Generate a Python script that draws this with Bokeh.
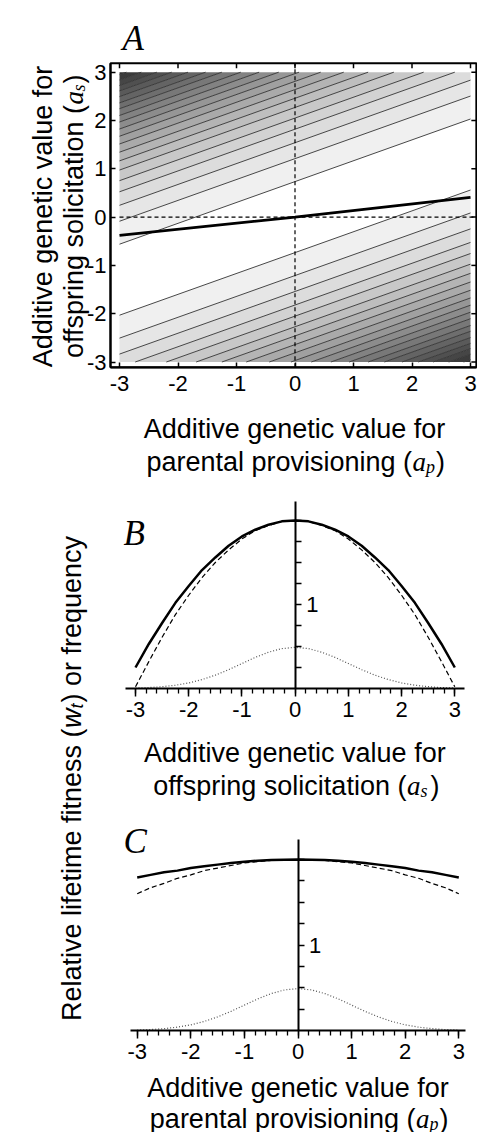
import numpy as np
from bokeh.plotting import figure
from bokeh.models import Label, FixedTicker, Range1d, LinearAxis
from bokeh.embed import file_html
from bokeh.resources import INLINE

# ---------------- data ----------------
a_ticks = [-3, -2, -1, 0, 1, 2, 3]
a_tick_labels = ["-3", "-2", "-1", "0", "1", "2", "3"]
# panel A: contour lines are parallel lines  a_s = slope * a_p +/- offset
contour_slope = 0.432
contour_offsets = [0.735, 1.21, 1.54, 1.82, 2.05, 2.27, 2.46, 2.64, 2.81, 2.97,
                   3.12, 3.265, 3.40, 3.54, 3.66, 3.79, 3.91, 4.02, 4.135, 4.245]
band_gray = [240, 230, 220, 210, 200, 190, 180, 170, 160, 150,
             140, 130, 120, 110, 100, 90, 80, 70, 60, 50]
optimum_x = [-3.0, 0.0, 3.0]
optimum_y = [-0.38, 0.0, 0.41]

# panels B and C
curve_x = [-3.0, -2.75, -2.5, -2.25, -2.0, -1.75, -1.5, -1.25, -1.0, -0.75, -0.5, -0.25, 0.0,
           0.25, 0.5, 0.75, 1.0, 1.25, 1.5, 1.75, 2.0, 2.25, 2.5, 2.75, 3.0]
b_solid = [0.25, 0.53, 0.78, 1.02, 1.22, 1.41, 1.56, 1.70, 1.81, 1.89, 1.95, 1.99, 2.00,
           1.99, 1.95, 1.89, 1.81, 1.70, 1.56, 1.41, 1.22, 1.02, 0.78, 0.53, 0.25]
b_dashed = [0.02, 0.32, 0.61, 0.88, 1.11, 1.32, 1.50, 1.65, 1.78, 1.88, 1.94, 1.99, 2.00,
            1.99, 1.94, 1.88, 1.78, 1.65, 1.50, 1.32, 1.11, 0.88, 0.61, 0.32, 0.02]
freq = [0.005, 0.011, 0.022, 0.039, 0.066, 0.106, 0.159, 0.224, 0.297, 0.370, 0.432, 0.475, 0.49,
        0.475, 0.432, 0.370, 0.297, 0.224, 0.159, 0.106, 0.066, 0.039, 0.022, 0.011, 0.005]
c_solid = [1.79, 1.82, 1.85, 1.87, 1.90, 1.92, 1.94, 1.96, 1.975, 1.986, 1.994, 1.998, 2.00,
           1.998, 1.994, 1.986, 1.975, 1.96, 1.94, 1.92, 1.90, 1.87, 1.85, 1.82, 1.79]
c_dashed = [1.60, 1.67, 1.72, 1.78, 1.82, 1.87, 1.90, 1.93, 1.96, 1.975, 1.99, 1.997, 2.00,
            1.997, 1.99, 1.975, 1.96, 1.93, 1.90, 1.87, 1.82, 1.78, 1.72, 1.67, 1.60]
fit_major = [1.0]
fit_minor = [0.25, 0.5, 0.75, 1.25, 1.5, 1.75, 2.0]
fit_axis_top = 2.23

# ---------------- styling / layout constants ----------------
SANS = "Liberation Sans"
SERIF = "Liberation Serif"
FS = "27px"
SUBFS = "18px"
TICKFS = "22px"
LIM = 3.0
R = np.pi / 2
W, H = 477, 1132
PX0, PX1, PY0, PY1 = 0, W, 0, H      # canvas extent in page pixels


def xrange_from(d0, p0, d1, p1):
    s = (p1 - p0) / (d1 - d0)
    return Range1d(d0 + (PX0 - p0) / s, d0 + (PX1 - p0) / s)


def yrange_from(d0, p0, d1, p1):
    s = (p0 - p1) / (d1 - d0)
    return Range1d(d0 - (PY1 - p0) / s, d0 + (p0 - PY0) / s)


p = figure(width=W, height=H, x_range=Range1d(PX0, PX1), y_range=Range1d(PY1, PY0),
           min_border_left=0, min_border_right=0, min_border_top=0, min_border_bottom=0,
           x_axis_location=None, y_axis_location=None,
           toolbar_location=None, output_backend="svg")
p.grid.grid_line_color = None
p.outline_line_color = None

p.extra_x_ranges = {"ax": xrange_from(-3, 119, 3, 470),
                    "bx": xrange_from(-3, 135, 3, 454.3),
                    "cx": xrange_from(-3, 136.7, 3, 458.3)}
p.extra_y_ranges = {"ay": yrange_from(-3, 361.5, 3, 71.7),
                    "by": yrange_from(0, 688, 2, 520),
                    "cy": yrange_from(0, 1030, 2, 859)}

A = dict(x_range_name="ax", y_range_name="ay")
B = dict(x_range_name="bx", y_range_name="by")
C = dict(x_range_name="cx", y_range_name="cy")


def lab(text, x, y, font=SANS, size=FS, style="normal", align="left",
        baseline="alphabetic", angle=0.0):
    p.add_layout(Label(text=text, x=x, y=y, text_font=font, text_font_size=size,
                       text_font_style=style, text_align=align, text_baseline=baseline,
                       angle=angle, text_color="black"))


def mixed_h(first, sub, xp, y):
    lab(first, xp, y, align="right")
    lab("a", xp + 0.5, y, font=SERIF, style="italic")
    lab(sub, xp + 14, y + 5, font=SERIF, style="italic", size=SUBFS)
    lab(")", xp + 24, y)


def style_axis(ax):
    ax.major_label_overrides = {t: s for t, s in zip(a_ticks, a_tick_labels)}
    ax.major_label_text_font = SANS
    ax.major_label_text_font_size = TICKFS
    ax.major_label_text_color = "black"
    ax.major_tick_line_width = 1.5
    ax.axis_line_width = 2


def clip_poly(pts, lim):
    def clip(pts, inside, yc):
        out = []
        for i in range(len(pts)):
            cur, prev = pts[i], pts[i - 1]
            def inter(a, b):
                t = (yc - a[1]) / (b[1] - a[1])
                return (a[0] + t * (b[0] - a[0]), yc)
            if inside(cur):
                if not inside(prev):
                    out.append(inter(prev, cur))
                out.append(cur)
            elif inside(prev):
                out.append(inter(prev, cur))
        return out
    pts = clip(pts, lambda q: q[1] <= lim, lim)
    if pts:
        pts = clip(pts, lambda q: q[1] >= -lim, -lim)
    return pts


# ================= Panel A =================
A_BOX = (-3.154, 3.10, -3.108, 3.186)   # frame: left, right, bottom, top
m = contour_slope
xs, ys, cols = [], [], []
for k in range(len(contour_offsets)):
    dlo = contour_offsets[k]
    dhi = contour_offsets[k + 1] if k + 1 < len(contour_offsets) else 10.0
    g = band_gray[k]
    for s in (1, -1):
        poly = [(-LIM, -LIM * m + s * dlo), (LIM, LIM * m + s * dlo),
                (LIM, LIM * m + s * dhi), (-LIM, -LIM * m + s * dhi)]
        poly = clip_poly(poly, LIM)
        if len(poly) >= 3:
            xs.append([q[0] for q in poly])
            ys.append([q[1] for q in poly])
            cols.append("#%02x%02x%02x" % (g, g, g))
p.patches(xs, ys, fill_color=cols, line_color=None, **A)

x0s, y0s, x1s, y1s = [], [], [], []
for d in contour_offsets:
    for s in (1, -1):
        xa = (LIM - s * d) / m
        xb = (-LIM - s * d) / m
        lo = max(-LIM, min(xa, xb))
        hi = min(LIM, max(xa, xb))
        if lo < hi:
            x0s.append(lo); y0s.append(m * lo + s * d)
            x1s.append(hi); y1s.append(m * hi + s * d)
p.segment(x0s, y0s, x1s, y1s, line_color="#333333", line_width=0.9, **A)

p.segment([0], [A_BOX[2]], [0], [A_BOX[3]], line_color="black", line_dash="4 3",
          line_width=1.2, **A)
p.segment([-LIM], [0], [A_BOX[1]], [0], line_color="black", line_dash="4 3",
          line_width=1.2, **A)
p.line(optimum_x, optimum_y, line_color="black", line_width=2.8, **A)
p.quad(left=[A_BOX[0]], right=[A_BOX[1]], bottom=[A_BOX[2]], top=[A_BOX[3]],
       fill_color=None, line_color="black", line_width=2, **A)
p.ray(x=a_ticks, y=[A_BOX[3]] * len(a_ticks), length=5, length_units="screen",
      angle=-np.pi / 2, line_color="black", line_width=1.5, **A)
p.ray(x=[A_BOX[1]] * len(a_ticks), y=a_ticks, length=5, length_units="screen",
      angle=np.pi, line_color="black", line_width=1.5, **A)

axA_x = LinearAxis(fixed_location=A_BOX[2], bounds=(A_BOX[0], A_BOX[1]),
                   ticker=FixedTicker(ticks=a_ticks), major_tick_in=5, major_tick_out=0,
                   minor_tick_line_color=None, major_label_standoff=9, **A)
axA_y = LinearAxis(fixed_location=A_BOX[0], bounds=(A_BOX[2], A_BOX[3]),
                   ticker=FixedTicker(ticks=a_ticks), major_tick_in=5, major_tick_out=0,
                   minor_tick_line_color=None, major_label_standoff=4, **A)
style_axis(axA_x)
style_axis(axA_y)
p.add_layout(axA_x, "below")
p.add_layout(axA_y, "left")

lab("A", 122, 38, font=SERIF, style="italic", size="35px")
lab("Additive genetic value for", 294, 428, align="center")
mixed_h("parental provisioning (", "p", 411.6, 461)

lab("Additive genetic value for", 42, 216, align="center", angle=R)
yx2 = 73
lab("offspring solicitation (", yx2, 104.4, align="right", angle=R)
lab("a", yx2, 103.9, font=SERIF, style="italic", angle=R)
lab("s", yx2 + 5, 90.9, font=SERIF, style="italic", size=SUBFS, angle=R)
lab(")", yx2, 83.0, angle=R)


# ================= Panels B and C =================
def fitness_panel(rn, xbounds, solid, dashed):
    axx = LinearAxis(fixed_location=0, bounds=xbounds,
                     ticker=FixedTicker(ticks=a_ticks,
                                        minor_ticks=[i / 5 for i in range(-15, 16)]),
                     major_tick_out=8, major_tick_in=0, minor_tick_out=5, minor_tick_in=0,
                     minor_tick_line_width=1.3, major_label_standoff=5, **rn)
    style_axis(axx)
    p.add_layout(axx, "below")
    axy = LinearAxis(fixed_location=0, bounds=(0, fit_axis_top),
                     ticker=FixedTicker(ticks=fit_major, minor_ticks=fit_minor),
                     major_tick_out=6, major_tick_in=0, minor_tick_out=6, minor_tick_in=0,
                     minor_tick_line_width=1.5, major_label_standoff=5, **rn)
    style_axis(axy)
    axy.major_label_overrides = {1: "1"}
    p.add_layout(axy, "right")
    p.line(curve_x, freq, line_color="#555555", line_width=1.2, line_dash="1 2", **rn)
    p.line(curve_x, dashed, line_color="black", line_width=1.2, line_dash="5 3", **rn)
    p.line(curve_x, solid, line_color="black", line_width=2.5, **rn)


fitness_panel(B, (-3.18, 3.18), b_solid, b_dashed)
lab("B", 123, 533, font=SERIF, style="italic", size="35px")
lab("Additive genetic value for", 294.3, 752, align="center")
mixed_h("offspring solicitation (", "s", 405.9, 785)

fitness_panel(C, (-3.125, 3.121), c_solid, c_dashed)
lab("C", 123, 841, font=SERIF, style="italic", size="35px")
lab("Additive genetic value for", 297.5, 1087, align="center")
mixed_h("parental provisioning (", "p", 415, 1118)

# shared vertical label
vx = 71
lab("Relative lifetime fitness (", vx, 728, align="right", angle=R)
lab("w", vx, 727.5, style="italic", angle=R)
lab("t", vx + 5, 708, style="italic", size=SUBFS, angle=R)
lab(") or frequency", vx, 702, angle=R)

open("out.html", "w").write(file_html(p, INLINE))
